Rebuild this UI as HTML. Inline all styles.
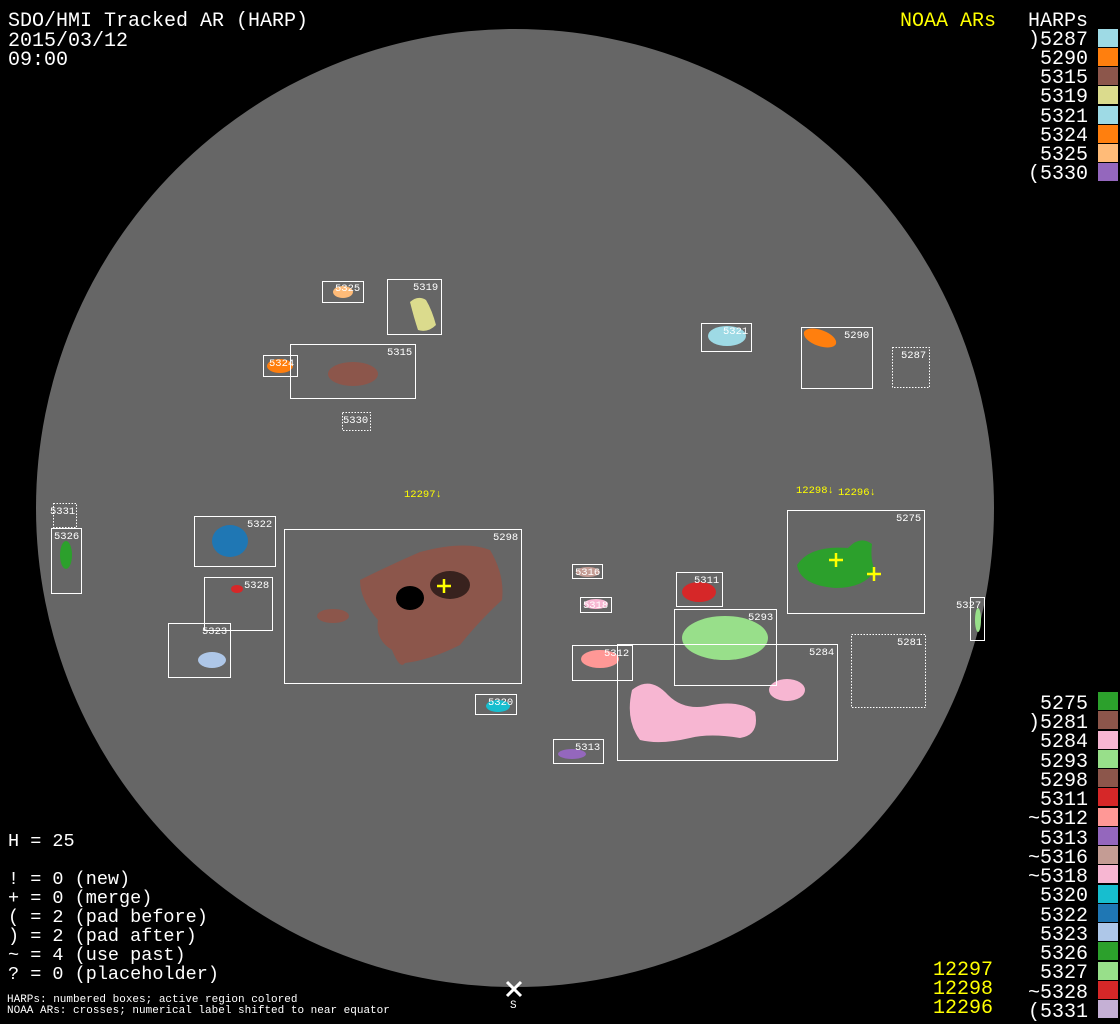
<!DOCTYPE html>
<html><head><style>
html,body{margin:0;padding:0;background:#000;}
svg{display:block;}
text{font-family:"Liberation Mono","DejaVu Sans Mono",monospace;}
.b{font-size:18.5px;fill:#fff;}
.h{font-size:20px;fill:#fff;}
.y{font-size:20px;fill:#ffff00;}
.s{font-size:11px;fill:#fff;}
.l{font-size:10.5px;fill:#fff;}
.bx{fill:none;stroke:#fff;stroke-width:1;}
.dt{fill:none;stroke:#fff;stroke-width:1;stroke-dasharray:1.5 1.5;}
</style></head><body>
<svg width="1120" height="1024" viewBox="0 0 1120 1024" xmlns="http://www.w3.org/2000/svg">
<rect width="1120" height="1024" fill="#000"/>
<circle cx="515" cy="508" r="479" fill="#666"/>

<text class="h" x="8" y="26">SDO/HMI Tracked AR (HARP)</text>
<text class="h" x="8" y="46">2015/03/12</text>
<text class="h" x="8" y="65">09:00</text>
<text class="y" x="900" y="26">NOAA ARs</text>
<text class="h" x="1028" y="26">HARPs</text>

<g class="h" text-anchor="end">
<text x="1088" y="45">)5287</text><text x="1088" y="64">5290</text><text x="1088" y="83">5315</text><text x="1088" y="102">5319</text>
<text x="1088" y="122">5321</text><text x="1088" y="141">5324</text><text x="1088" y="160">5325</text><text x="1088" y="179">(5330</text>
</g>
<rect x="1098" y="29" width="20" height="18" fill="#9edae5"/>
<rect x="1098" y="48" width="20" height="18" fill="#ff7f0e"/>
<rect x="1098" y="67" width="20" height="18" fill="#8c564b"/>
<rect x="1098" y="86" width="20" height="18" fill="#dbdb8d"/>
<rect x="1098" y="106" width="20" height="18" fill="#9edae5"/>
<rect x="1098" y="125" width="20" height="18" fill="#ff7f0e"/>
<rect x="1098" y="144" width="20" height="18" fill="#ffbb78"/>
<rect x="1098" y="163" width="20" height="18" fill="#9467bd"/>

<g class="h" text-anchor="end">
<text x="1088" y="709">5275</text><text x="1088" y="728">)5281</text><text x="1088" y="747">5284</text><text x="1088" y="767">5293</text>
<text x="1088" y="786">5298</text><text x="1088" y="805">5311</text><text x="1088" y="824">~5312</text><text x="1088" y="844">5313</text>
<text x="1088" y="863">~5316</text><text x="1088" y="882">~5318</text><text x="1088" y="901">5320</text><text x="1088" y="921">5322</text>
<text x="1088" y="940">5323</text><text x="1088" y="959">5326</text><text x="1088" y="978">5327</text><text x="1088" y="998">~5328</text>
<text x="1088" y="1017">(5331</text>
</g>
<g>
<rect x="1098" y="692" width="20" height="18" fill="#2ca02c"/>
<rect x="1098" y="711" width="20" height="18" fill="#8c564b"/>
<rect x="1098" y="731" width="20" height="18" fill="#f7b6d2"/>
<rect x="1098" y="750" width="20" height="18" fill="#98df8a"/>
<rect x="1098" y="769" width="20" height="18" fill="#8c564b"/>
<rect x="1098" y="788" width="20" height="18" fill="#d62728"/>
<rect x="1098" y="808" width="20" height="18" fill="#ff9896"/>
<rect x="1098" y="827" width="20" height="18" fill="#9467bd"/>
<rect x="1098" y="846" width="20" height="18" fill="#c49c94"/>
<rect x="1098" y="865" width="20" height="18" fill="#f7b6d2"/>
<rect x="1098" y="885" width="20" height="18" fill="#17becf"/>
<rect x="1098" y="904" width="20" height="18" fill="#1f77b4"/>
<rect x="1098" y="923" width="20" height="18" fill="#aec7e8"/>
<rect x="1098" y="942" width="20" height="18" fill="#2ca02c"/>
<rect x="1098" y="962" width="20" height="18" fill="#98df8a"/>
<rect x="1098" y="981" width="20" height="18" fill="#d62728"/>
<rect x="1098" y="1000" width="20" height="18" fill="#c5b0d5"/>
</g>
<g class="y" text-anchor="end">
<text x="993" y="975">12297</text><text x="993" y="994">12298</text><text x="993" y="1013">12296</text>
</g>

<text class="b" x="8" y="846">H = 25</text>
<text class="b" x="8" y="884">! = 0 (new)</text>
<text class="b" x="8" y="903">+ = 0 (merge)</text>
<text class="b" x="8" y="922">( = 2 (pad before)</text>
<text class="b" x="8" y="941">) = 2 (pad after)</text>
<text class="b" x="8" y="960">~ = 4 (use past)</text>
<text class="b" x="8" y="979">? = 0 (placeholder)</text>
<text class="s" x="7" y="1002">HARPs: numbered boxes; active region colored</text>
<text class="s" x="7" y="1013">NOAA ARs: crosses; numerical label shifted to near equator</text>
<path d="M507 982 L521 996 M521 982 L507 996" stroke="#fff" stroke-width="3"/>
<text class="s" x="510" y="1008">S</text>

<ellipse cx="343" cy="292" rx="10" ry="6" fill="#ffbb78"/>
<path d="M410 302 Q418 295 426 300 Q432 310 436 325 Q428 333 418 330 Q414 318 410 302Z" fill="#dbdb8d"/>
<ellipse cx="353" cy="374" rx="25" ry="12" fill="#8c564b"/>
<ellipse cx="280" cy="366" rx="13" ry="7" fill="#ff7f0e"/>
<ellipse cx="727" cy="336" rx="19" ry="10" fill="#9edae5"/>
<ellipse cx="820" cy="338" rx="17" ry="8" transform="rotate(20 820 338)" fill="#ff7f0e"/>
<ellipse cx="66" cy="555" rx="6" ry="14" fill="#2ca02c"/>
<ellipse cx="230" cy="541" rx="18" ry="16" fill="#1f77b4"/>
<ellipse cx="237" cy="589" rx="6" ry="4" fill="#d62728"/>
<ellipse cx="212" cy="660" rx="14" ry="8" fill="#aec7e8"/>
<path d="M360 580 Q390 565 420 552 Q465 540 490 550 Q505 575 502 600 Q480 620 460 645 Q430 660 405 663 Q400 670 392 650 Q375 640 378 620 Q360 600 360 580Z" fill="#8c564b"/>
<ellipse cx="333" cy="616" rx="16" ry="7" fill="#8c564b"/>
<ellipse cx="410" cy="598" rx="14" ry="12" fill="#000"/>
<ellipse cx="450" cy="585" rx="20" ry="14" fill="#000" opacity="0.6"/>
<ellipse cx="588" cy="572" rx="12" ry="5" fill="#c49c94"/>
<ellipse cx="596" cy="604" rx="12" ry="5" fill="#f7b6d2"/>
<ellipse cx="600" cy="659" rx="19" ry="9" fill="#ff9896"/>
<ellipse cx="699" cy="592" rx="17" ry="10" fill="#d62728"/>
<ellipse cx="725" cy="638" rx="43" ry="22" fill="#98df8a"/>
<path d="M632 690 Q650 675 668 695 Q685 712 712 705 Q740 700 755 712 Q760 735 740 738 Q710 733 690 738 Q660 745 640 740 Q625 720 632 690Z" fill="#f7b6d2"/>
<ellipse cx="787" cy="690" rx="18" ry="11" fill="#f7b6d2"/>
<path d="M797 565 Q810 545 848 548 Q860 535 872 544 Q870 560 875 570 Q865 588 835 588 Q800 585 797 565Z" fill="#2ca02c"/>
<ellipse cx="978" cy="620" rx="3" ry="12" fill="#98df8a"/>
<ellipse cx="498" cy="706" rx="12" ry="6" fill="#17becf"/>
<ellipse cx="572" cy="754" rx="14" ry="5" fill="#9467bd"/>

<rect class="bx" x="322.5" y="281.5" width="41" height="21"/>
<rect class="bx" x="387.5" y="279.5" width="54" height="55"/>
<rect class="bx" x="290.5" y="344.5" width="125" height="54"/>
<rect class="bx" x="263.5" y="355.5" width="34" height="21"/>
<rect class="dt" x="342.5" y="412.5" width="28" height="18"/>
<rect class="bx" x="701.5" y="323.5" width="50" height="28"/>
<rect class="bx" x="801.5" y="327.5" width="71" height="61"/>
<rect class="dt" x="892.5" y="347.5" width="37" height="40"/>
<rect class="dt" x="53.5" y="503.5" width="23" height="24"/>
<rect class="bx" x="51.5" y="528.5" width="30" height="65"/>
<rect class="bx" x="194.5" y="516.5" width="81" height="50"/>
<rect class="bx" x="204.5" y="577.5" width="68" height="53"/>
<rect class="bx" x="168.5" y="623.5" width="62" height="54"/>
<rect class="bx" x="284.5" y="529.5" width="237" height="154"/>
<rect class="bx" x="572.5" y="564.5" width="30" height="14"/>
<rect class="bx" x="580.5" y="597.5" width="31" height="15"/>
<rect class="bx" x="572.5" y="645.5" width="60" height="35"/>
<rect class="bx" x="676.5" y="572.5" width="46" height="34"/>
<rect class="bx" x="674.5" y="609.5" width="102" height="76"/>
<rect class="bx" x="617.5" y="644.5" width="220" height="116"/>
<rect class="bx" x="787.5" y="510.5" width="137" height="103"/>
<rect class="dt" x="851.5" y="634.5" width="74" height="73"/>
<rect class="bx" x="970.5" y="597.5" width="14" height="43"/>
<rect class="bx" x="475.5" y="694.5" width="41" height="20"/>
<rect class="bx" x="553.5" y="739.5" width="50" height="24"/>

<g class="l">
<text x="335" y="291">5325</text><text x="413" y="290">5319</text><text x="387" y="355">5315</text>
<text x="269" y="366">5324</text><text x="343" y="423">5330</text><text x="723" y="334">5321</text>
<text x="844" y="338">5290</text><text x="901" y="358">5287</text><text x="50" y="514">5331</text>
<text x="54" y="539">5326</text><text x="247" y="527">5322</text><text x="244" y="588">5328</text>
<text x="202" y="634">5323</text><text x="493" y="540">5298</text><text x="575" y="575">5316</text>
<text x="583" y="608">5318</text><text x="604" y="656">5312</text><text x="694" y="583">5311</text>
<text x="748" y="620">5293</text><text x="809" y="655">5284</text><text x="896" y="521">5275</text>
<text x="897" y="645">5281</text><text x="956" y="608">5327</text><text x="488" y="705">5320</text>
<text x="575" y="750">5313</text>
</g>

<g stroke="#ffff00" stroke-width="2.5">
<path d="M437 586 H451 M444 579 V593"/>
<path d="M829 560 H843 M836 553 V567"/>
<path d="M867 574 H881 M874 567 V581"/>
</g>
<g font-size="10.5" fill="#ffff00">
<text x="404" y="497">12297↓</text>
<text x="796" y="493">12298↓</text>
<text x="838" y="495">12296↓</text>
</g>
</svg>
</body></html>
